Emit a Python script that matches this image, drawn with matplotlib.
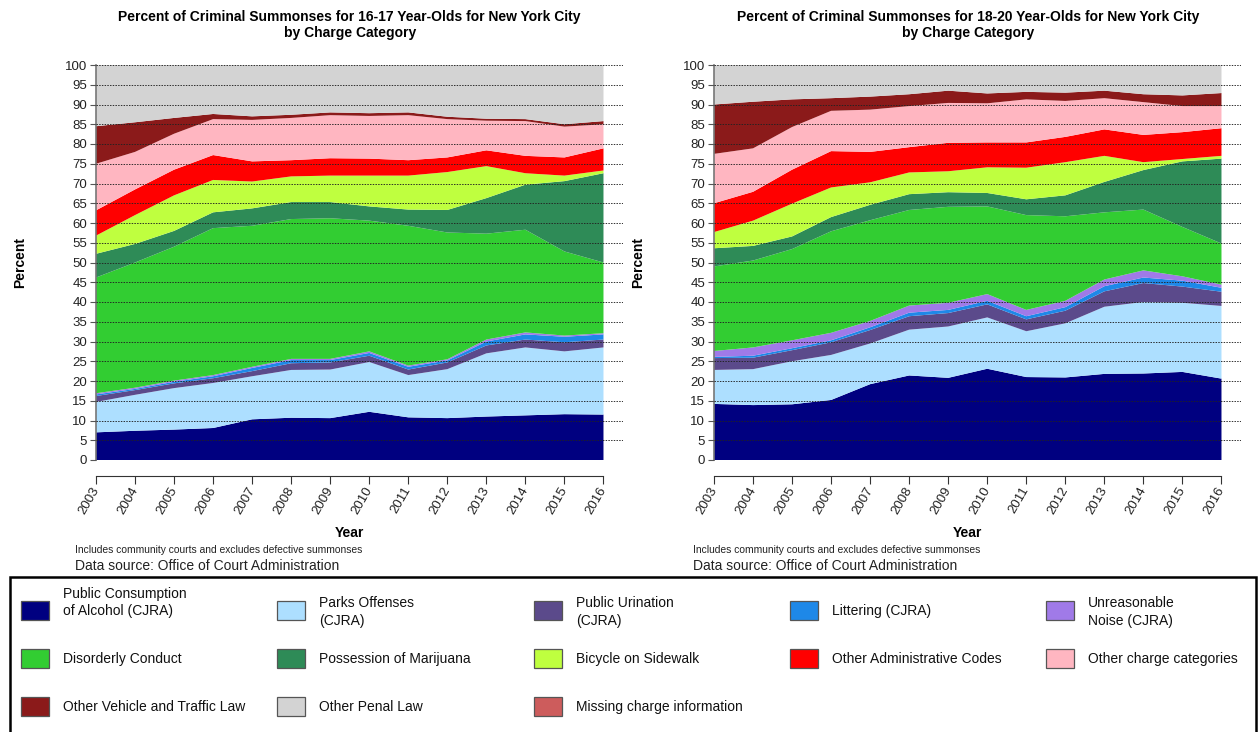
import matplotlib
matplotlib.use("Agg")
import matplotlib.pyplot as plt
import matplotlib.transforms as mtransforms
from matplotlib.patches import Rectangle
import numpy as np

plt.rcParams['font.family'] = ['Liberation Sans', 'DejaVu Sans']

years = list(range(2003, 2017))

categories = [
    "Public Consumption\nof Alcohol (CJRA)", "Parks Offenses\n(CJRA)", "Public Urination\n(CJRA)",
    "Littering (CJRA)", "Unreasonable\nNoise (CJRA)", "Disorderly Conduct",
    "Possession of Marijuana", "Bicycle on Sidewalk", "Other Administrative Codes",
    "Other charge categories", "Other Vehicle and Traffic Law", "Other Penal Law",
    "Missing charge information",
]
colors = ["#000080", "#ADDFFF", "#5B4A8B", "#1E88E8", "#A07AE8", "#32CD32", "#2E8B57",
          "#BFFF3F", "#FF0000", "#FFB6C1", "#8B1A1A", "#D3D3D3", "#CD5C5C"]

# 16-17 year-olds (percent per category)
alcohol_16 = [7.0, 7.4, 7.7, 8.1, 10.3, 10.7, 10.6, 12.2, 10.8, 10.6, 11.0, 11.3, 11.6, 11.5]
parks_16 = [7.7, 9.1, 10.5, 11.4, 10.9, 12.1, 12.3, 12.6, 10.7, 12.4, 16.0, 17.2, 15.9, 17.0]
urination_16 = [1.5, 1.2, 1.2, 1.2, 1.3, 1.7, 1.8, 1.6, 1.4, 1.7, 2.0, 2.0, 2.3, 2.0]
littering_16 = [0.4, 0.3, 0.4, 0.5, 0.8, 0.8, 0.6, 0.7, 0.7, 0.5, 1.0, 1.3, 1.4, 1.3]
noise_16 = [0.3, 0.3, 0.3, 0.3, 0.3, 0.3, 0.3, 0.4, 0.3, 0.3, 0.5, 0.5, 0.3, 0.3]
disorderly_16 = [29.3, 31.7, 33.9, 37.2, 35.7, 35.4, 35.6, 33.1, 35.4, 32.1, 26.8, 26.0, 21.3, 17.9]
marijuana_16 = [6.0, 4.7, 4.0, 4.0, 4.4, 4.3, 4.1, 3.6, 4.1, 5.7, 9.0, 11.4, 17.8, 22.6]
bicycle_16 = [4.6, 7.3, 9.0, 8.2, 6.8, 6.5, 6.7, 7.8, 8.6, 9.6, 8.1, 2.9, 1.4, 0.7]
admin_16 = [6.4, 6.5, 6.5, 6.3, 5.1, 4.1, 4.4, 4.3, 3.9, 3.7, 4.0, 4.4, 4.6, 5.6]
othercharge_16 = [11.8, 9.5, 9.1, 9.1, 10.5, 10.7, 10.9, 10.8, 11.4, 9.7, 7.5, 8.8, 7.8, 6.1]
vehicle_16 = [9.5, 7.5, 4.0, 1.3, 0.9, 0.8, 0.7, 0.7, 0.7, 0.6, 0.5, 0.5, 0.6, 0.8]
penal_16 = [15.5, 14.5, 13.4, 12.4, 13.0, 12.6, 12.0, 12.2, 12.0, 13.1, 13.6, 13.7, 15.0, 14.2]
missing_16 = [0.0] * 14

# 18-20 year-olds (percent per category)
alcohol_18 = [14.2, 13.9, 14.1, 15.2, 19.2, 21.4, 20.8, 23.1, 21.0, 20.9, 21.8, 21.9, 22.3, 20.6]
parks_18 = [8.6, 9.1, 10.9, 11.4, 10.3, 11.6, 13.0, 13.0, 11.6, 13.7, 17.0, 18.1, 17.5, 18.4]
urination_18 = [3.0, 2.9, 2.8, 3.2, 3.4, 3.4, 3.4, 3.3, 3.0, 3.2, 3.9, 4.8, 4.1, 3.6]
littering_18 = [0.3, 0.5, 0.5, 0.5, 0.7, 0.9, 0.8, 0.9, 0.8, 0.9, 1.3, 1.4, 1.5, 1.0]
noise_18 = [1.5, 2.1, 2.0, 1.9, 1.6, 1.8, 1.8, 1.7, 1.6, 1.6, 1.7, 1.8, 1.1, 0.8]
disorderly_18 = [21.4, 22.0, 23.1, 25.7, 25.5, 24.2, 24.3, 22.2, 24.0, 21.4, 17.0, 15.4, 12.5, 10.4]
marijuana_18 = [4.6, 3.7, 3.2, 3.6, 3.9, 4.0, 3.7, 3.4, 4.0, 5.3, 7.7, 10.0, 16.6, 21.5]
bicycle_18 = [4.1, 6.4, 8.3, 7.5, 5.7, 5.5, 5.3, 6.5, 8.0, 8.4, 6.6, 2.0, 0.6, 0.7]
admin_18 = [7.3, 7.3, 8.6, 9.2, 7.7, 6.4, 7.2, 6.3, 6.4, 6.4, 6.7, 6.9, 6.8, 7.0]
othercharge_18 = [12.5, 11.0, 10.8, 10.2, 10.7, 10.4, 10.1, 9.9, 10.9, 9.1, 7.9, 8.3, 6.6, 5.6]
vehicle_18 = [12.5, 11.8, 7.0, 3.2, 3.3, 3.0, 3.1, 2.5, 1.9, 2.1, 1.9, 2.0, 2.7, 3.3]
penal_18 = [10.0, 9.3, 8.7, 8.4, 8.0, 7.4, 6.5, 7.2, 6.8, 7.0, 6.5, 7.4, 7.7, 7.1]
missing_18 = [0.0] * 14

series_16 = [alcohol_16, parks_16, urination_16, littering_16, noise_16, disorderly_16,
             marijuana_16, bicycle_16, admin_16, othercharge_16, vehicle_16, penal_16, missing_16]
series_18 = [alcohol_18, parks_18, urination_18, littering_18, noise_18, disorderly_18,
             marijuana_18, bicycle_18, admin_18, othercharge_18, vehicle_18, penal_18, missing_18]

titles = ["Percent of Criminal Summonses for 16-17 Year-Olds for New York City\nby Charge Category",
          "Percent of Criminal Summonses for 18-20 Year-Olds for New York City\nby Charge Category"]
yticks = list(range(0, 101, 5))

fig = plt.figure(figsize=(12.6, 7.32), dpi=100)
W, H = 1260, 732
PT = 72 / 100  # points per pixel


def fx(px):
    return px / W


def fy(py):
    return 1 - py / H


ax_lefts = [96, 714]
for k, (series, title) in enumerate(zip([series_16, series_18], titles)):
    x0 = ax_lefts[k]
    ax = fig.add_axes([fx(x0), fy(460), 527 / W, 395 / H])
    ax.spines['bottom'].set_position(('outward', 16 * PT))
    ax.spines['bottom'].set_bounds(2003, 2016)
    ax.stackplot(years, *series, colors=colors, linewidth=0)
    ax.set_xlim(2003, 2016.5)
    ax.set_ylim(0, 100)
    ax.set_yticks(yticks)
    ax.set_xticks(years)
    ax.set_xticklabels([str(y) for y in years], rotation=60, ha='right', va='center',
                       rotation_mode='anchor', fontsize=9.5, color='#222222')
    ax.tick_params(axis='y', labelsize=9.5, length=6 * PT, color='#555555', pad=2,
                   labelcolor='#222222')
    ax.tick_params(axis='x', length=8 * PT, color='#333333', pad=4 * PT)
    ax.set_axisbelow(False)
    ax.yaxis.grid(True, linestyle=(0, (1.6, 1.4)), color='#222222', linewidth=0.65)
    ax.spines['top'].set_visible(False)
    ax.spines['right'].set_visible(False)
    ax.spines['left'].set_color('#777777')
    ax.spines['left'].set_linewidth(1.2)
    ax.spines['bottom'].set_color('#333333')
    ax.set_ylabel("Percent", fontsize=10, fontweight='bold', labelpad=27)
    trans = mtransforms.blended_transform_factory(ax.transData, ax.transAxes)
    ax.text(2009.5, 1.063, title, transform=trans, ha='center', va='bottom',
            fontsize=10, fontweight='bold', linespacing=1.15)
    ax.text(2009.5, fy(533), "Year",
            transform=mtransforms.blended_transform_factory(ax.transData, fig.transFigure),
            ha='center', va='center', fontsize=10, fontweight='bold')
    fig.text(fx(x0 - 21), fy(550), "Includes community courts and excludes defective summonses",
             fontsize=7.4, ha='left', va='center', color='#222222')
    fig.text(fx(x0 - 21), fy(566), "Data source: Office of Court Administration",
             fontsize=10, ha='left', va='center', color='#222222')

# legend drawn as a grid (row-major), five columns
fig.add_artist(Rectangle((fx(10), fy(736)), (1256 - 10) / W, (736 - 577) / H,
                         transform=fig.transFigure, fill=False, edgecolor='black',
                         linewidth=1.8))
col_x = [21, 277, 534, 790, 1046]
row_top = [601, 649, 697]
for i, (lab, c) in enumerate(zip(categories, colors)):
    r, cidx = divmod(i, 5)
    px, py = col_x[cidx], row_top[r]
    fig.add_artist(Rectangle((fx(px), fy(py + 19)), 28 / W, 19 / H, transform=fig.transFigure,
                             facecolor=c, edgecolor='#555555', linewidth=0.9))
    if "\n" in lab:
        ty = py + 1.5 if cidx == 0 else py + 11
    else:
        ty = py + 10
    fig.text(fx(px + 42), fy(ty), lab, fontsize=10, ha='left', va='center',
             linespacing=1.3, color='#111111')

fig.savefig("out.png", dpi=100)
